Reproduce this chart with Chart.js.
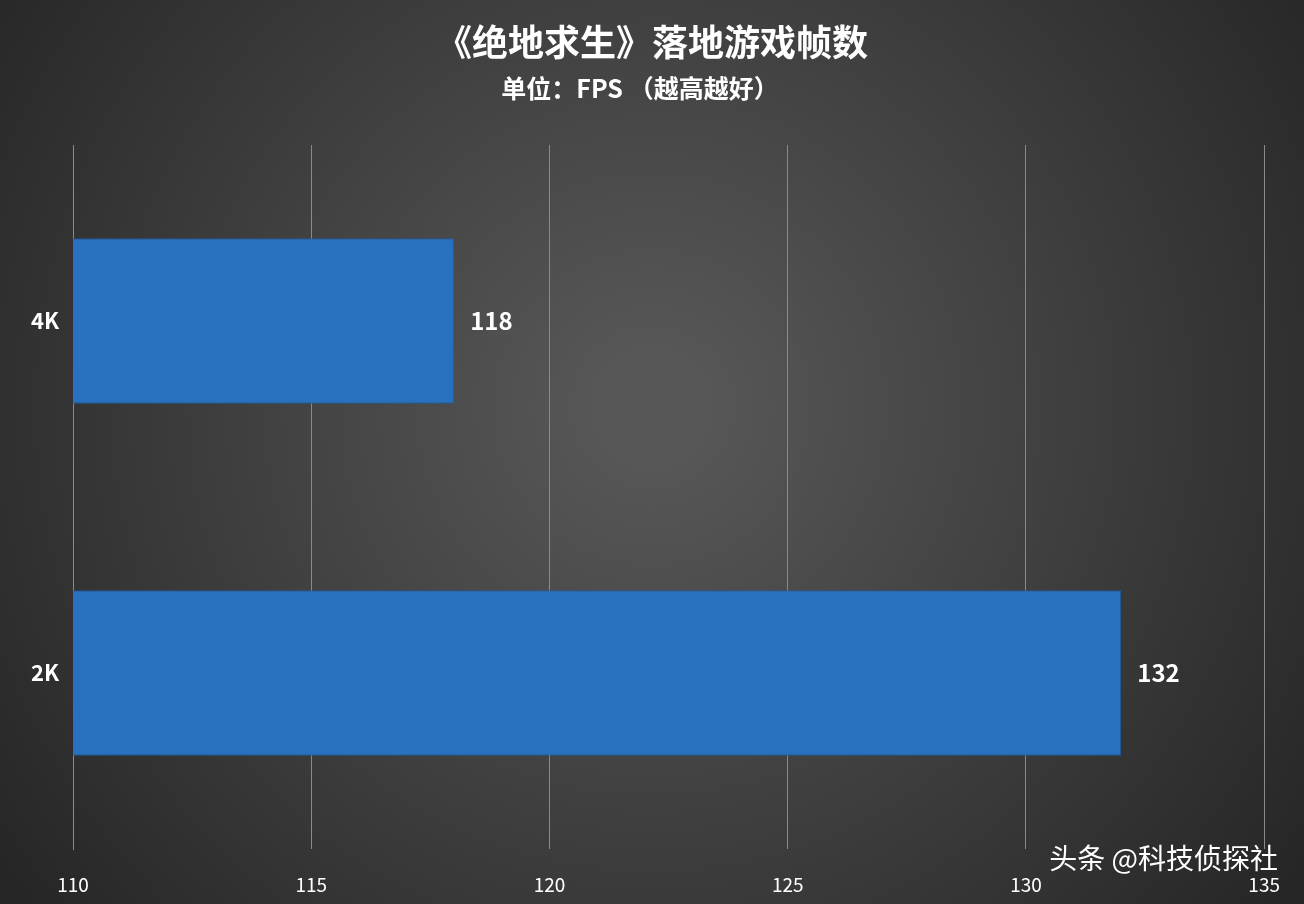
<!DOCTYPE html>
<html><head><meta charset="utf-8">
<script src="https://cdn.jsdelivr.net/npm/chart.js@4"></script>
<style>html,body{margin:0;padding:0;background:#3a3a3a}canvas{display:block}</style>
</head><body>
<div style="width:1304px;height:904px"><canvas id="c" width="1304" height="904"></canvas></div>
<script>
const categories = ["4K", "2K"];
const fpsValues = [118, 132];
const xTicks = [110, 115, 120, 125, 130, 135];
const titleText = "《绝地求生》落地游戏帧数";
const subtitleText = "单位：FPS （越高越好）";
const watermark = "头条 @科技侦探社";
const FONT = "'Noto Sans CJK SC', 'Noto Sans', sans-serif";

const bgPlugin = {
  id: 'bg',
  beforeDraw(chart) {
    const {ctx, width, height} = chart;
    const g = ctx.createRadialGradient(width*0.5, height*0.45, 50, width*0.5, height*0.45, 800);
    g.addColorStop(0, '#575757');
    g.addColorStop(1, '#262626');
    ctx.save(); ctx.fillStyle = g; ctx.fillRect(0, 0, width, height);
    ctx.fillStyle = '#fff'; ctx.textAlign = 'center'; ctx.textBaseline = 'middle';
    ctx.font = `bold 36px ${FONT}`; ctx.fillText(titleText, 652, 42);
    ctx.font = `bold 25px ${FONT}`; ctx.fillText(subtitleText, 640, 88);
    ctx.restore();
  },
  afterDraw(chart) {
    const {ctx} = chart;
    const meta = chart.getDatasetMeta(0);
    ctx.save(); ctx.fillStyle = '#fff'; ctx.font = `bold 24px ${FONT}`;
    ctx.textBaseline = 'middle'; ctx.textAlign = 'left';
    meta.data.forEach((b, i) => ctx.fillText(String(fpsValues[i]), b.x + 16, b.y));
    ctx.font = `28px ${FONT}`; ctx.textAlign = 'right';
    ctx.fillText(watermark, 1278, 858);
    ctx.restore();
  }
};

new Chart(document.getElementById('c'), {
  type: 'bar',
  data: { labels: categories, datasets: [{ data: fpsValues, backgroundColor: '#2970bf', borderColor: '#1f5a9e', borderWidth: 1, barPercentage: 0.47, categoryPercentage: 1 }] },
  options: {
    indexAxis: 'y', responsive: false, animation: false,
    layout: { padding: { top: 145, right: 37, left: 0, bottom: 0 } },
    plugins: { legend: { display: false }, tooltip: { enabled: false } },
    scales: {
      x: {
        min: 110, max: 135,
        afterBuildTicks(s) { s.ticks = xTicks.map(v => ({ value: v })); },
        afterFit(s) { s.height = 55; },
        grid: { color: '#8a8a8a', lineWidth: 1, drawTicks: false },
        border: { display: false },
        ticks: { color: '#fff', font: { size: 19, family: FONT }, padding: 24 }
      },
      y: {
        afterFit(s) { s.width = 73; },
        grid: { display: false, drawTicks: false },
        border: { color: '#8a8a8a' },
        ticks: { color: '#fff', font: { size: 22, weight: 'bold', family: FONT }, padding: 14 }
      }
    }
  },
  plugins: [bgPlugin]
});
</script>
</body></html>
